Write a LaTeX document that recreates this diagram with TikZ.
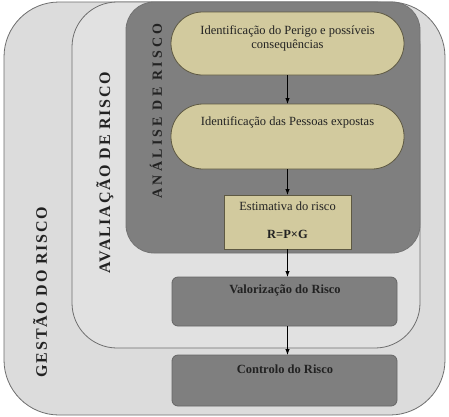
\documentclass[tikz,border=0pt]{standalone}
\usepackage{fontspec}
\setmainfont{Liberation Serif}
\newfontfamily\spacedfont[LetterSpace=11]{Liberation Serif Bold}
\newfontfamily\spacedfontB[LetterSpace=23]{Liberation Serif Bold}
\usetikzlibrary{arrows.meta}
\definecolor{outerfill}{HTML}{DCDCDC}
\definecolor{midfill}{HTML}{E1E1E1}
\definecolor{darkfill}{HTML}{7F7F7F}
\definecolor{boxline}{HTML}{6E6E6E}
\definecolor{beige}{HTML}{D2CA9E}
\definecolor{beigeline}{HTML}{5E5943}
\definecolor{txt}{HTML}{222222}
\tikzset{
  frame/.style={draw=boxline, line width=0.8pt, inner sep=0pt, outer sep=0pt},
  pill/.style={draw=beigeline, fill=beige, line width=0.8pt, inner sep=0pt, outer sep=0pt,
               minimum width=233pt},
  greybox/.style={draw=black!60, line width=0.8pt, fill=darkfill, rounded corners=6pt,
               inner sep=0pt, outer sep=0pt, minimum width=225pt},
  bodytext/.style={text=txt, font=\fontsize{12.5}{14}\selectfont, align=center, inner sep=0pt},
  boldtext/.style={text=txt, font=\bfseries\fontsize{12.5}{14}\selectfont, inner sep=0pt},
  sidetitle/.style={rotate=90, text=txt, inner sep=0pt},
  flow/.style={-{Latex[length=6pt,width=4.5pt]}, line width=1pt, black}
}
\begin{document}
\begin{tikzpicture}[x=1pt,y=-1pt]
\useasboundingbox (0,0) rectangle (449,416);
\fill[white] (0,0) rectangle (449,416);
% nested frames
\node[frame, fill=outerfill, rounded corners=55pt, minimum width=441pt, minimum height=413pt] (gestao) at (224.5,208.5) {};
\node[frame, fill=midfill, rounded corners=45pt, minimum width=348pt, minimum height=346pt] (avaliacao) at (246,175) {};
\node[frame, draw=black!55, fill=darkfill, rounded corners=28pt, minimum width=294pt, minimum height=251pt] (analise) at (273,127.5) {};
% side titles
\node[sidetitle, font=\spacedfont\fontsize{16}{16}\selectfont] (tg) at (40,292) {GESTÃO DO RISCO};
\node[sidetitle, font=\spacedfont\fontsize{16}{16}\selectfont] (ta) at (105,172.5) {AVALIAÇÃO DE RISCO};
\node[sidetitle, font=\spacedfontB\fontsize{14}{14}\selectfont] (tn) at (156,111) {ANÁLISE DE RISCO};
% steps
\node[pill, rounded corners=31.5pt, minimum height=63pt] (p1) at (287.5,43.5) {};
\node[bodytext] (p1t) at (287.5,38.5) {Identificação do Perigo e possíveis\\consequências};
\node[pill, rounded corners=32pt, minimum height=65pt] (p2) at (287.5,136.5) {};
\node[bodytext] (p2t) at (287.5,122.3) {Identificação das Pessoas expostas};
\node[draw=beigeline, fill=beige, line width=0.8pt, inner sep=0pt, outer sep=0pt,
      minimum width=127pt, minimum height=54pt] (est) at (287.5,222) {};
\node[bodytext] (estt) at (287.5,206) {Estimativa do risco};
\node[boldtext] (estf) at (287.5,234) {R=P×G};
\node[greybox, minimum height=49pt] (val) at (284.5,301.5) {};
\node[boldtext] (valt) at (285,290) {Valorização do Risco};
\node[greybox, minimum height=51pt] (ctl) at (284.5,380.5) {};
\node[boldtext] (ctlt) at (285,369.5) {Controlo do Risco};
% connectors
\draw[flow] (p1.south) -- (p2.north);
\draw[flow] (p2.south) -- (est.north);
\draw[flow] (est.south) -- (est.south |- val.north);
\draw[flow] (est.south |- val.south) -- (est.south |- ctl.north);
\end{tikzpicture}
\end{document}
